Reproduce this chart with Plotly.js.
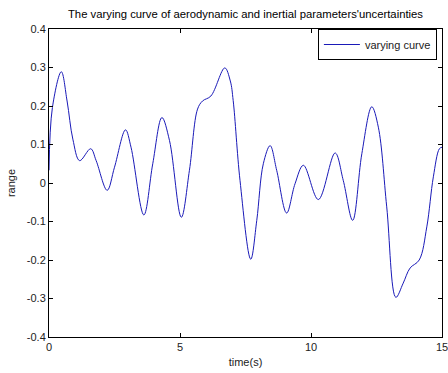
<!DOCTYPE html>
<html><head><meta charset="utf-8">
<script src="https://cdn.plot.ly/plotly-3.0.1.min.js"></script>
<style>html,body{margin:0;padding:0;background:#fff;}#chart{width:448px;height:373px;}</style>
</head><body><div id="chart"></div>
<script>
const timeValues = [0.0,0.13,0.47,0.69,0.91,1.17,1.59,1.80,2.22,2.50,2.92,3.13,3.62,3.96,4.31,4.60,5.05,5.36,5.67,5.86,6.18,6.71,6.92,7.03,7.29,7.70,7.93,8.18,8.44,8.69,9.07,9.39,9.71,10.28,10.92,11.23,11.59,11.94,12.32,12.57,12.89,13.24,13.52,13.78,14.13,14.42,14.67,14.90,15.0];
const rangeValues = [0.033,0.196,0.289,0.213,0.114,0.058,0.089,0.058,-0.019,0.041,0.138,0.093,-0.083,0.05,0.170,0.11,-0.089,0.033,0.192,0.213,0.226,0.299,0.265,0.214,0.007,-0.198,-0.097,0.05,0.097,0.033,-0.078,-0.002,0.046,-0.043,0.078,0.007,-0.097,0.076,0.198,0.145,-0.062,-0.297,-0.26,-0.221,-0.2,-0.114,0.016,0.089,0.093];
const xTicks = [0,5,10,15];
const yTicks = [-0.4,-0.3,-0.2,-0.1,0,0.1,0.2,0.3,0.4];
const yTickLabels = ['-0.4','-0.3','-0.2','-0.1','0','0.1','0.2','0.3','0.4'];
const seriesName = 'varying curve';

const font = {family:'Liberation Sans, Arial, sans-serif', size:11, color:'#222'};
const trace = {x:timeValues, y:rangeValues, type:'scatter', mode:'lines', name:seriesName,
  line:{color:'#1a1ab8', width:1, shape:'spline', smoothing:1}};
const axisCommon = {showline:true, linecolor:'#000', linewidth:1, mirror:'ticks', ticks:'inside', ticklen:4, tickcolor:'#000', showgrid:false, zeroline:false, tickfont:font, ticklabeloverflow:'allow'};
const layout = {
  width:448, height:373, paper_bgcolor:'#fff', plot_bgcolor:'#fff',
  margin:{l:49, r:6, t:29, b:36},
  title:{text:"The varying curve of aerodynamic and inertial parameters'uncertainties", font:{family:font.family, size:11.3, color:'#000'}, xref:'paper', x:0.5, xanchor:'center', yref:'container', y:0.962, yanchor:'middle'},
  xaxis:Object.assign({}, axisCommon, {range:[0,15], tickvals:xTicks, ticktext:xTicks.map(String), title:{text:'time(s)', font:font, standoff:6}}),
  yaxis:Object.assign({}, axisCommon, {range:[-0.4,0.4], tickvals:yTicks, ticktext:yTickLabels, title:{text:'range', font:font, standoff:8}}),
  showlegend:true,
  legend:{x:0.987, xanchor:'right', y:1.0, yanchor:'top', bgcolor:'#fff', bordercolor:'#000', borderwidth:1, font:font, itemwidth:36},
};
Plotly.newPlot('chart',[trace],layout,{staticPlot:true, displayModeBar:false});
</script></body></html>
